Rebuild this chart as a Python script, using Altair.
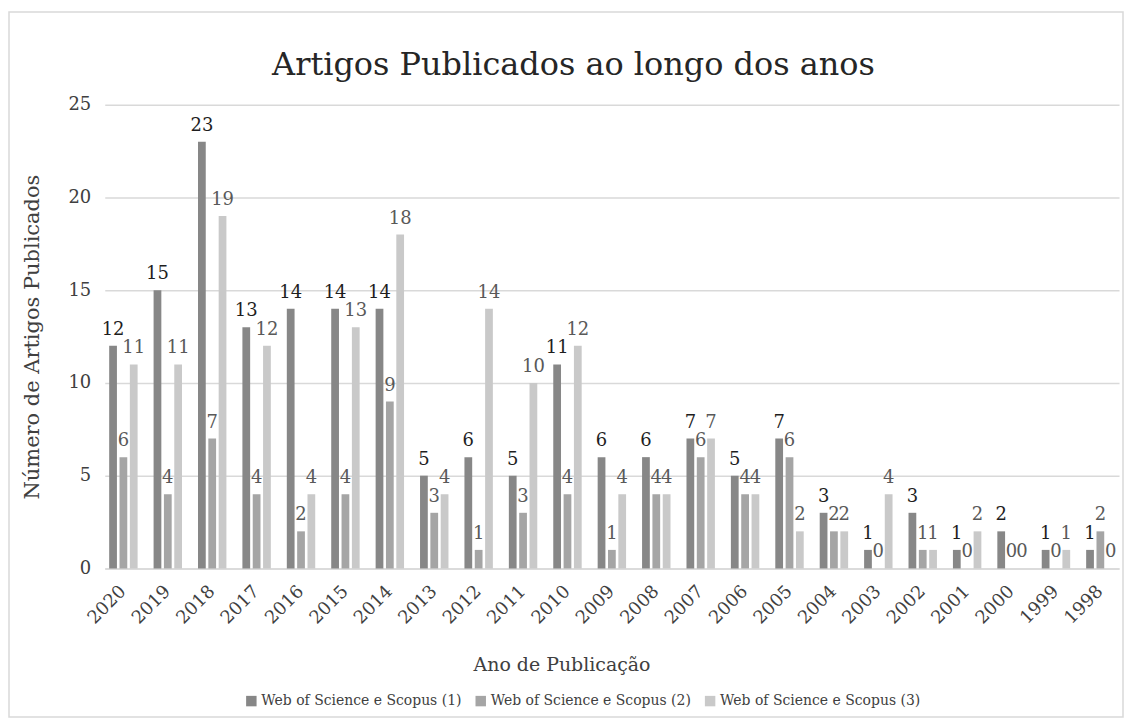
import altair as alt
import pandas as pd

years = ["2020", "2019", "2018", "2017", "2016", "2015", "2014", "2013", "2012", "2011", "2010", "2009",
         "2008", "2007", "2006", "2005", "2004", "2003", "2002", "2001", "2000", "1999", "1998"]
series_names = ["Web of Science e Scopus (1)", "Web of Science e Scopus (2)", "Web of Science e Scopus (3)"]
s1 = [12, 15, 23, 13, 14, 14, 14, 5, 6, 5, 11, 6, 6, 7, 5, 7, 3, 1, 3, 1, 2, 1, 1]
s2 = [6, 4, 7, 4, 2, 4, 9, 3, 1, 3, 4, 1, 4, 6, 4, 6, 2, 0, 1, 0, 0, 0, 2]
s3 = [11, 11, 19, 12, 4, 13, 18, 4, 14, 10, 12, 4, 4, 7, 4, 2, 2, 4, 1, 2, 0, 1, 0]
title_text = "Artigos Publicados ao longo dos anos"

bar_colors = ["#878787", "#a5a5a5", "#c9c9c9"]
label_colors = ["#1e1e1e", "#595959", "#595959"]

rows = []
for name, vals in zip(series_names, [s1, s2, s3]):
    for y, v in zip(years, vals):
        rows.append({"ano": y, "serie": name, "valor": v})
df = pd.DataFrame(rows)

FONT = "DejaVu Serif"
W, H = 1017, 465

x_enc = alt.X("ano:N", sort=years, title="Ano de Publicação",
              scale=alt.Scale(paddingInner=0.36, paddingOuter=0.1),
              axis=alt.Axis(labelAngle=-45, labelAlign="right", labelBaseline="middle",
                            labelFontSize=18, labelColor="#404040", labelPadding=20,
                            ticks=False, domainColor="#d9d9d9", domainWidth=1.5,
                            titleFontSize=19, titleFontWeight="normal", titleColor="#404040",
                            titleX=458, titleY=96, titleAlign="center", titleBaseline="middle"))
xoff = alt.XOffset("serie:N", sort=series_names, scale=alt.Scale(paddingInner=0.25))
y_enc = alt.Y("valor:Q", title="Número de Artigos Publicados",
              scale=alt.Scale(domain=[0, 25], nice=False),
              axis=alt.Axis(values=[0, 5, 10, 15, 20, 25], labelFontSize=18, labelColor="#404040",
                            ticks=False, domain=False, gridColor="#d9d9d9", gridWidth=1.5,
                            labelPadding=14, titleFontSize=21, titleFontWeight="normal",
                            titleColor="#404040", titleX=-72, titleY=H / 2, titleAlign="center",
                            titleBaseline="middle"))

base = alt.Chart(df)

bars = base.mark_bar().encode(
    x=x_enc, xOffset=xoff, y=y_enc,
    color=alt.Color("serie:N", sort=series_names,
                    scale=alt.Scale(domain=series_names, range=bar_colors),
                    legend=alt.Legend(title=None, orient="none", direction="horizontal",
                                      legendX=140, legendY=591,
                                      symbolType="square", symbolSize=110, symbolStrokeWidth=0,
                                      labelFontSize=14, labelColor="#404040", columnPadding=12,
                                      labelLimit=0, labelOffset=3)),
)

labels = base.mark_text(baseline="bottom", dy=-7, fontSize=18, font=FONT).encode(
    x=alt.X("ano:N", sort=years), xOffset=alt.XOffset("serie:N", sort=series_names),
    y=alt.Y("valor:Q"),
    text=alt.Text("valor:Q"),
    color=alt.Color("serie:N", sort=series_names,
                    scale=alt.Scale(domain=series_names, range=label_colors), legend=None),
)

deco = alt.Chart(pd.DataFrame({"t": [title_text]}))

frame = deco.mark_rect(fill=None, stroke="#d9d9d9", strokeWidth=1.5).encode(
    x=alt.value(-96), x2=alt.value(1021), y=alt.value(-93), y2=alt.value(614))

title = deco.mark_text(fontSize=32, font=FONT, color="#262626", align="center",
                       baseline="alphabetic").encode(
    text="t:N", x=alt.value(470), y=alt.value(-30))

chart = alt.layer(frame, bars, labels, title).resolve_scale(color="independent").properties(
    width=W, height=H,
    padding={"left": 0, "top": 2, "right": 0, "bottom": 0},
).configure(font=FONT).configure_view(stroke=None).configure_axis(labelFont=FONT, titleFont=FONT
).configure_legend(labelFont=FONT)

chart.save("out.html", embed_options={"renderer": "svg", "actions": False})
